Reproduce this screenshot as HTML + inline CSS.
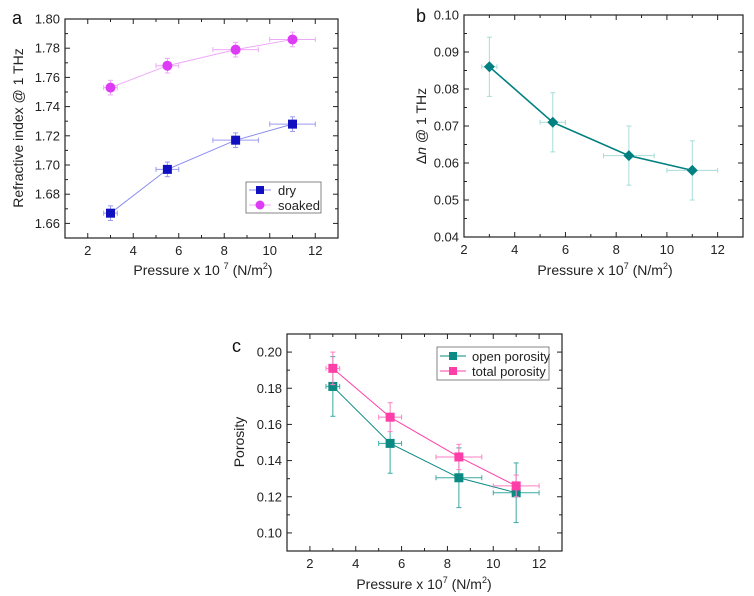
<!DOCTYPE html>
<html><head><meta charset="utf-8"><style>
body{margin:0;background:#fff;}
svg{display:block;font-family:"Liberation Sans",Arial,sans-serif;}
</style></head><body>
<svg id="fig" width="754" height="596" viewBox="0 0 754 596" xmlns="http://www.w3.org/2000/svg"></svg>
<script>
const xCats = [3, 5.5, 8.5, 11];
const xErr = [0.3, 0.5, 1, 1];
const dryVals = [1.667, 1.697, 1.717, 1.728];
const soakedVals = [1.753, 1.768, 1.779, 1.786];
const refErr = [0.005, 0.005, 0.005, 0.005];
const dnVals = [0.086, 0.071, 0.062, 0.058];
const dnErr = [0.008, 0.008, 0.008, 0.008];
const openVals = [0.181, 0.1495, 0.1305, 0.1222];
const openErr = [0.0165, 0.0165, 0.0165, 0.0165];
const totalVals = [0.191, 0.164, 0.142, 0.126];
const totalErr = [0.009, 0.008, 0.007, 0.006];
const ticksA_y = ["1.66","1.68","1.70","1.72","1.74","1.76","1.78","1.80"];
const ticksB_y = ["0.04","0.05","0.06","0.07","0.08","0.09","0.10"];
const ticksC_y = ["0.10","0.12","0.14","0.16","0.18","0.20"];
const ticksX = ["2","4","6","8","10","12"];

const NS="http://www.w3.org/2000/svg";
const svg=document.getElementById('fig');
function el(tag,attrs,parent,text){const e=document.createElementNS(NS,tag);for(const k in attrs)e.setAttribute(k,attrs[k]);if(text!==undefined)e.textContent=text;(parent||svg).appendChild(e);return e;}

function panel(o){
  const g=el('g',{});
  
  
  const sx=v=>o.L+(v-o.x0)/(o.x1-o.x0)*(o.R-o.L);
  const sy=v=>o.B-(v-o.y0)/(o.y1-o.y0)*(o.B-o.T);
  const box=el('rect',{x:o.L,y:o.T,width:o.R-o.L,height:o.B-o.T,fill:'none',stroke:'#222','stroke-width':1.2},g);
  
  
  // x ticks
  for(let v=o.x0;v<=o.x1+1e-9;v+=1){
    const major=(v%2===0);const len=major?5:3;const x=sx(v);
    el('line',{x1:x,x2:x,y1:o.B,y2:o.B-len,stroke:'#222'},g);
    el('line',{x1:x,x2:x,y1:o.T,y2:o.T+len,stroke:'#222'},g);
  }
  ticksX.forEach(t=>{const v=+t;if(v<o.x0||v>o.x1)return;
    const tx=el('text',{x:sx(v),y:o.B+17,'text-anchor':'middle','font-size':13,fill:'#222'},g,t);
    
    });
  // y ticks
  const step=o.ystep;
  for(let i=0;;i++){const v=o.y0+i*step/2; if(v>o.y1+1e-9)break;
    const major=Math.abs(((v-o.yfirst)/step)-Math.round((v-o.yfirst)/step))<1e-6;const len=major?5:3;const y=sy(v);
    el('line',{x1:o.L,x2:o.L+len,y1:y,y2:y,stroke:'#222'},g);
    el('line',{x1:o.R,x2:o.R-len,y1:y,y2:y,stroke:'#222'},g);
  }
  o.yticks.forEach(t=>{const ty=el('text',{x:o.L-5,y:sy(+t)+4.5,'text-anchor':'end','font-size':13,fill:'#222'},g,t);
    
    });
  // series
  o.series.forEach(s=>{
    const sg=el('g',{},g);
    
    
    el('polyline',{points:xCats.map((x,i)=>sx(x)+','+sy(s.vals[i])).join(' '),fill:'none',stroke:s.line,'stroke-width':s.lw},sg);
    xCats.forEach((x,i)=>{
      const cx=sx(x),cy=sy(s.vals[i]);
      const x1=sx(x-xErr[i]),x2=sx(x+xErr[i]),y1=sy(s.vals[i]+s.err[i]),y2=sy(s.vals[i]-s.err[i]);
      el('line',{x1:x1,x2:x2,y1:cy,y2:cy,stroke:s.ec},sg);
      el('line',{x1:x1,x2:x1,y1:cy-2.5,y2:cy+2.5,stroke:s.ec},sg);
      el('line',{x1:x2,x2:x2,y1:cy-2.5,y2:cy+2.5,stroke:s.ec},sg);
      el('line',{x1:cx,x2:cx,y1:y1,y2:y2,stroke:s.ec},sg);
      el('line',{x1:cx-2.5,x2:cx+2.5,y1:y1,y2:y1,stroke:s.ec},sg);
      el('line',{x1:cx-2.5,x2:cx+2.5,y1:y2,y2:y2,stroke:s.ec},sg);
      let m;
      if(s.marker==='sq')m=el('rect',{x:cx-4.5,y:cy-4.5,width:9,height:9,fill:s.color},sg);
      else if(s.marker==='circ')m=el('circle',{cx:cx,cy:cy,r:5,fill:s.color},sg);
      else m=el('polygon',{points:`${cx},${cy-5.5} ${cx+5.5},${cy} ${cx},${cy+5.5} ${cx-5.5},${cy}`,fill:s.color},sg);
      
      
    });
  });
  return {g,sx,sy};
}

// Panel a
const pa=panel({name:'panel-a-refractive-index',L:65,R:338,T:19,B:238,x0:1,x1:13,y0:1.65,y1:1.80,ystep:0.02,yfirst:1.66,yticks:ticksA_y,
  series:[{name:'series-dry',vals:dryVals,err:refErr,color:'#1010c0',line:'#8a8af0',ec:'#9a9af0',lw:1,marker:'sq'},
          {name:'series-soaked',vals:soakedVals,err:refErr,color:'#dd3bf5',line:'#eea8f8',ec:'#eea8f8',lw:1,marker:'circ'}]});
// Panel b
const pb=panel({name:'panel-b-delta-n',L:464,R:743,T:15,B:237,x0:2,x1:13,y0:0.04,y1:0.10,ystep:0.01,yfirst:0.04,yticks:ticksB_y,
  series:[{name:'series-delta-n',vals:dnVals,err:dnErr,color:'#008080',line:'#008080',ec:'#a8dcd8',lw:1.6,marker:'dia'}]});
// Panel c
const pc=panel({name:'panel-c-porosity',L:287,R:562,T:334,B:551,x0:1,x1:13,y0:0.09,y1:0.21,ystep:0.02,yfirst:0.10,yticks:ticksC_y,
  series:[{name:'series-open-porosity',vals:openVals,err:openErr,color:'#0a8a82',line:'#0a8a82',ec:'#3aaaa2',lw:1,marker:'sq'},
          {name:'series-total-porosity',vals:totalVals,err:totalErr,color:'#ff3fa8',line:'#ff3fa8',ec:'#ff7fc4',lw:1,marker:'sq'}]});
</script>
<svg style="position:absolute;left:0;top:0" width="754" height="596" xmlns="http://www.w3.org/2000/svg" font-family="Liberation Sans, Arial, sans-serif">
  <text x="12" y="24" font-size="18" fill="#111">a</text>
  <text x="416" y="22" font-size="18" fill="#111">b</text>
  <text x="232" y="352" font-size="18" fill="#111">c</text>
  <text transform="translate(23,128) rotate(-90)" text-anchor="middle" font-size="14" fill="#222">Refractive index @ 1 THz</text>
  <text x="203" y="275" text-anchor="middle" font-size="14" fill="#222">Pressure x 10 <tspan font-size="9" dy="-6">7</tspan><tspan dy="6"> (N/m</tspan><tspan font-size="9" dy="-6">2</tspan><tspan dy="6">)</tspan></text>
  <text transform="translate(426,126) rotate(-90)" text-anchor="middle" font-size="14" fill="#222"><tspan>Δ</tspan><tspan font-style="italic">n</tspan> @ 1 THz</text>
  <text x="605" y="275" text-anchor="middle" font-size="14" fill="#222">Pressure x 10<tspan font-size="9" dy="-6">7</tspan><tspan dy="6"> (N/m</tspan><tspan font-size="9" dy="-6">2</tspan><tspan dy="6">)</tspan></text>
  <text transform="translate(244,442) rotate(-90)" text-anchor="middle" font-size="14" fill="#222">Porosity</text>
  <text x="424" y="589" text-anchor="middle" font-size="14" fill="#222">Pressure x 10<tspan font-size="9" dy="-6">7</tspan><tspan dy="6"> (N/m</tspan><tspan font-size="9" dy="-6">2</tspan><tspan dy="6">)</tspan></text>
  <g>
    <rect x="246" y="182" width="75" height="31" fill="#fff" stroke="#666" stroke-width="0.8"/>
    <line x1="249" x2="271" y1="190" y2="190" stroke="#8a8af0"/>
    <rect x="256" y="186" width="8" height="8" fill="#1010c0"/>
    <text x="278" y="195" font-size="13" fill="#222">dry</text>
    <line x1="249" x2="271" y1="205" y2="205" stroke="#eea8f8"/>
    <circle cx="260" cy="205" r="4.5" fill="#dd3bf5"/>
    <text x="278" y="210" font-size="13" fill="#222">soaked</text>
  </g>
  <g>
    <rect x="437" y="347" width="112" height="33" fill="#fff" stroke="#666" stroke-width="0.8"/>
    <line x1="440" x2="466" y1="356" y2="356" stroke="#0a8a82"/>
    <rect x="449" y="352" width="8" height="8" fill="#0a8a82"/>
    <text x="472" y="361" font-size="13" fill="#222">open porosity</text>
    <line x1="440" x2="466" y1="371" y2="371" stroke="#ff3fa8"/>
    <rect x="449" y="367" width="8" height="8" fill="#ff3fa8"/>
    <text x="472" y="376" font-size="13" fill="#222">total porosity</text>
  </g>
</svg>
</body></html>
